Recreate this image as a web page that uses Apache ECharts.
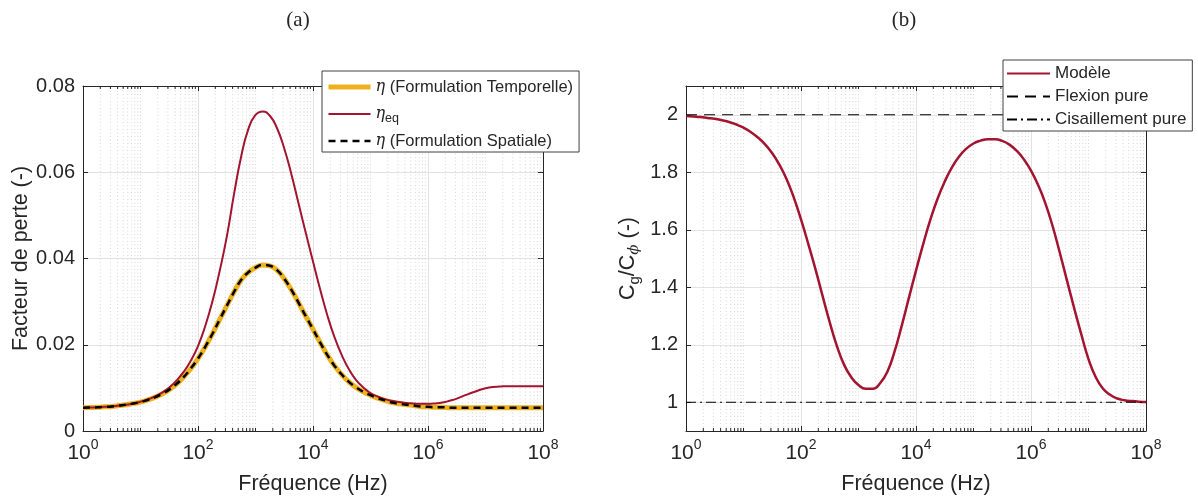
<!DOCTYPE html>
<html><head><meta charset="utf-8">
<script src="https://cdn.jsdelivr.net/npm/echarts@6/dist/echarts.min.js"></script>
<style>html,body{margin:0;padding:0;background:#fff}#c{width:1198px;height:500px}</style>
</head><body><div id="c"></div><script>
// ---------- data ----------
// sampling frequencies as log10(Hz), every 1/8 decade
const logFreq = [0, 0.125, 0.25, 0.375, 0.5, 0.625, 0.75, 0.875, 1, 1.125, 1.25, 1.375, 1.5, 1.625, 1.75, 1.875,
  2, 2.125, 2.25, 2.375, 2.5, 2.625, 2.75, 2.875, 3, 3.125, 3.25, 3.375, 3.5, 3.625, 3.75, 3.875,
  4, 4.125, 4.25, 4.375, 4.5, 4.625, 4.75, 4.875, 5, 5.125, 5.25, 5.375, 5.5, 5.625, 5.75, 5.875,
  6, 6.125, 6.25, 6.375, 6.5, 6.625, 6.75, 6.875, 7, 7.125, 7.25, 7.375, 7.5, 7.625, 7.75, 7.875, 8];
const etaTemporelle = [0.0054, 0.00545, 0.0055, 0.0056, 0.0057, 0.0059, 0.0061, 0.0064, 0.0067, 0.0072, 0.0078, 0.0086, 0.0096, 0.0109, 0.0125, 0.0145,
  0.0168, 0.0195, 0.0225, 0.0258, 0.0290, 0.0322, 0.0350, 0.0368, 0.0379, 0.0385, 0.0383, 0.0373, 0.0353, 0.0327, 0.0297, 0.0266,
  0.0236, 0.0205, 0.0176, 0.0151, 0.0131, 0.0114, 0.0101, 0.0091, 0.0083, 0.0076, 0.0071, 0.0066, 0.0063, 0.0061, 0.0059, 0.0057,
  0.0056, 0.0055, 0.0055, 0.0054, 0.0054, 0.0054, 0.0054, 0.0054, 0.0054, 0.0054, 0.0054, 0.0054, 0.0054, 0.0054, 0.0054, 0.0054, 0.0054];
const etaEq = [0.0054, 0.00545, 0.0055, 0.0056, 0.0057, 0.0059, 0.0061, 0.0064, 0.0068, 0.0073, 0.0080, 0.0089, 0.0101, 0.0117, 0.0137, 0.0163,
  0.0197, 0.0243, 0.0300, 0.0370, 0.0450, 0.0548, 0.0636, 0.0700, 0.0733, 0.0741, 0.0731, 0.0702, 0.0655, 0.0595, 0.0527, 0.0459,
  0.0393, 0.0328, 0.0268, 0.0217, 0.0176, 0.0143, 0.0118, 0.0101, 0.0088, 0.0080, 0.0074, 0.0070, 0.0067, 0.0065, 0.0064, 0.0063,
  0.0063, 0.0064, 0.0066, 0.0070, 0.0075, 0.0082, 0.0088, 0.0094, 0.0099, 0.0102, 0.0103, 0.0104, 0.0104, 0.0104, 0.0104, 0.0104, 0.0104];
const etaSpatiale = [0.0054, 0.00545, 0.0055, 0.0056, 0.0057, 0.0059, 0.0061, 0.0064, 0.0067, 0.0072, 0.0078, 0.0086, 0.0096, 0.0109, 0.0125, 0.0145,
  0.0168, 0.0195, 0.0225, 0.0258, 0.0290, 0.0322, 0.0350, 0.0368, 0.0379, 0.0385, 0.0383, 0.0373, 0.0353, 0.0327, 0.0297, 0.0266,
  0.0236, 0.0205, 0.0176, 0.0151, 0.0131, 0.0114, 0.0101, 0.0091, 0.0083, 0.0076, 0.0071, 0.0066, 0.0063, 0.0061, 0.0059, 0.0057,
  0.0056, 0.0055, 0.0055, 0.0054, 0.0054, 0.0054, 0.0054, 0.0054, 0.0054, 0.0054, 0.0054, 0.0054, 0.0054, 0.0054, 0.0054, 0.0054, 0.0054];
const cgModele = [1.996, 1.994, 1.992, 1.989, 1.986, 1.981, 1.975, 1.966, 1.955, 1.940, 1.921, 1.897, 1.866, 1.826, 1.776, 1.712,
  1.636, 1.552, 1.464, 1.370, 1.278, 1.195, 1.130, 1.087, 1.060, 1.047, 1.047, 1.066, 1.105, 1.175, 1.265, 1.362,
  1.458, 1.550, 1.635, 1.708, 1.768, 1.817, 1.855, 1.882, 1.900, 1.910, 1.915, 1.915, 1.909, 1.896, 1.875, 1.845,
  1.806, 1.755, 1.692, 1.613, 1.521, 1.424, 1.328, 1.236, 1.150, 1.088, 1.048, 1.026, 1.013, 1.007, 1.004, 1.002, 1.001];
const refLogFreq = [0, 8];
const flexionPure = [2, 2];
const cisaillementPure = [1, 1];

const yTicksB = [1, 1.2, 1.4, 1.6, 1.8, 2];

// minor log positions (2..9 x 10^k, plus odd decades)
const xMinor = [];
for (let k = 0; k < 8; k++) {
  if (k % 2 === 1) xMinor.push(Math.pow(10, k));
  for (let m = 2; m <= 9; m++) xMinor.push(m * Math.pow(10, k));
}

const TXT = '#262626';
const SANS = '"Liberation Sans", Arial, Helvetica, sans-serif';
const SERIF = '"DejaVu Serif", "Liberation Serif", serif';
const ORANGE = '#EDB120', RED = '#A2142F';

const pair = (lx, ys) => lx.map((e, i) => [Math.pow(10, e), ys[i]]);

function xAxesFor(gi) {
  const base = {gridIndex: gi, type: 'log', logBase: 10, min: 1, max: 1e8, interval: 2};
  return [
    Object.assign({}, base, {
      position: 'bottom',
      axisLine: {show: true, onZero: false, lineStyle: {color: TXT, width: 1}},
      axisTick: {show: true, inside: true, length: 5, lineStyle: {color: TXT, width: 1}},
      axisLabel: {show: true, margin: 7, color: TXT,
        formatter: v => '{b|10}{s|' + Math.round(Math.log10(v)) + '}',
        rich: {
          b: {fontFamily: SANS, fontSize: 21, color: TXT, lineHeight: 26, verticalAlign: 'bottom'},
          s: {fontFamily: SANS, fontSize: 14, color: TXT, lineHeight: 14, verticalAlign: 'top'}
        }},
      splitLine: {show: true, lineStyle: {color: '#e2e2e2', width: 1}},
      name: 'Fréquence (Hz)', nameLocation: 'middle', nameGap: 42,
      nameTextStyle: {fontFamily: SANS, fontSize: 21.5, color: TXT}
    }),
    Object.assign({}, base, {
      position: 'top',
      axisLine: {show: true, onZero: false, lineStyle: {color: TXT, width: 1}},
      axisTick: {show: true, inside: true, length: 5, lineStyle: {color: TXT, width: 1}},
      axisLabel: {show: false}, splitLine: {show: false}
    })
  ];
}

function yAxesFor(gi, ext, name, nameGap, extra) {
  const main = Object.assign({gridIndex: gi, type: 'value', position: 'left',
    axisLine: {show: true, onZero: false, lineStyle: {color: TXT, width: 1}},
    axisTick: {show: true, inside: true, length: 5, lineStyle: {color: TXT, width: 1}},
    axisLabel: {show: true, margin: 8, color: TXT, fontFamily: SANS, fontSize: 20},
    splitLine: {show: true, lineStyle: {color: '#e2e2e2', width: 1}},
    name: name, nameLocation: 'middle', nameGap: nameGap,
    nameTextStyle: {fontFamily: SANS, fontSize: 21.5, color: TXT,
      rich: {
        n: {fontFamily: SANS, fontSize: 21.5, color: TXT},
        sub: {fontFamily: SANS, fontSize: 15, color: TXT, verticalAlign: 'bottom', padding: [12, 0, 0, 0]},
        phi: {fontFamily: SERIF, fontStyle: 'italic', fontSize: 15, color: TXT, padding: [12, 0, 0, 0]}
      }}
  }, ext, extra || {});
  const opp = Object.assign({gridIndex: gi, type: 'value', position: 'right',
    axisLine: {show: true, onZero: false, lineStyle: {color: TXT, width: 1}},
    axisTick: {show: true, inside: true, length: 5, lineStyle: {color: TXT, width: 1}},
    axisLabel: {show: false}, splitLine: {show: false}
  }, ext, extra ? {axisTick: {show: true, inside: true, length: 5, lineStyle: {color: TXT, width: 1}, customValues: yTicksB}} : {});
  return [main, opp];
}

function minorSeries(xi, yi, yMin, yMax) {
  return {
    type: 'custom', xAxisIndex: xi, yAxisIndex: yi, silent: true, z: 1,
    data: xMinor.map(v => [v, yMin, yMax]),
    encode: {x: 0, y: [1, 2]},
    renderItem: function (params, api) {
      const x = api.value(0);
      const p0 = api.coord([x, api.value(1)]);
      const p1 = api.coord([x, api.value(2)]);
      return {type: 'group', children: [
        {type: 'line', shape: {x1: p0[0], y1: p0[1], x2: p1[0], y2: p1[1]},
          style: {stroke: '#d6d6d6', lineWidth: 1, lineDash: [1, 2.5]}},
        {type: 'line', shape: {x1: p0[0], y1: p0[1], x2: p0[0], y2: p0[1] - 3},
          style: {stroke: TXT, lineWidth: 1}},
        {type: 'line', shape: {x1: p1[0], y1: p1[1], x2: p1[0], y2: p1[1] + 3},
          style: {stroke: TXT, lineWidth: 1}}
      ]};
    }
  };
}

const legText = {fontFamily: SANS, fontSize: 16.5, color: TXT, lineHeight: 20,
  rich: {
    eta: {fontFamily: SERIF, fontStyle: 'italic', fontSize: 16, color: TXT, lineHeight: 20},
    t: {fontFamily: SANS, fontSize: 16.5, color: TXT, lineHeight: 20},
    sub: {fontFamily: SANS, fontSize: 12.5, color: TXT, lineHeight: 20, padding: [9, 0, 0, 0]}
  }};
const noSym = {opacity: 0, color: 'rgba(0,0,0,0)', borderWidth: 0};

const S1 = 'η (Formulation Temporelle)', S2 = 'ηeq', S3 = 'η (Formulation Spatiale)';

const option = {
  animation: false,
  backgroundColor: '#fff',
  grid: [
    {left: 83, right: 655, top: 86, bottom: 68, containLabel: false},
    {left: 686, right: 52, top: 86, bottom: 68, containLabel: false}
  ],
  xAxis: [].concat(xAxesFor(0), xAxesFor(1)),
  yAxis: [].concat(
    yAxesFor(0, {min: 0, max: 0.08, interval: 0.02}, 'Facteur de perte (-)', 48),
    yAxesFor(1, {min: 0.9, max: 2.1}, '{n|C}{sub|g}{n|/C}{phi|ϕ}{n| (-)}', 44, {
      axisTick: {show: true, inside: true, length: 5, lineStyle: {color: TXT, width: 1}, customValues: yTicksB},
      axisLabel: {show: true, margin: 8, color: TXT, fontFamily: SANS, fontSize: 20, customValues: yTicksB}
    })
  ),
  legend: [
    {
      z: 20,
      data: [{name: S1, lineStyle: {width: 5}, itemStyle: noSym}, {name: S2, lineStyle: {width: 2}, itemStyle: noSym}, {name: S3, lineStyle: {width: 2.5}, itemStyle: noSym}],
      orient: 'vertical', left: 322, top: 71,
      itemWidth: 42, itemHeight: 14, itemGap: 6,
      padding: [6, 6, 1, 4],
      itemStyle: noSym,
      backgroundColor: '#fff', borderColor: '#404040', borderWidth: 1, borderRadius: 0,
      formatter: function (n) {
        if (n === S2) return '{eta|η}{sub|eq}';
        if (n === S1) return '{eta|η}{t| (Formulation Temporelle)}';
        return '{eta|η}{t| (Formulation Spatiale)}';
      },
      textStyle: legText, selectedMode: false
    },
    {
      z: 20,
      data: [{name: 'Modèle', itemStyle: noSym}, {name: 'Flexion pure', itemStyle: noSym}, {name: 'Cisaillement pure', itemStyle: noSym}],
      orient: 'vertical', left: 1003, top: 60,
      itemWidth: 43, itemHeight: 14, itemGap: 4,
      padding: [4, 6, 2, 3],
      itemStyle: noSym,
      backgroundColor: '#fff', borderColor: '#404040', borderWidth: 1, borderRadius: 0,
      textStyle: {fontFamily: SANS, fontSize: 17, color: TXT, lineHeight: 19},
      selectedMode: false
    }
  ],
  graphic: [
    {type: 'text', x: 298, y: 20, style: {text: '(a)', align: 'center', verticalAlign: 'middle', font: '21px "Liberation Serif", serif', fill: TXT}},
    {type: 'text', x: 904, y: 20, style: {text: '(b)', align: 'center', verticalAlign: 'middle', font: '21px "Liberation Serif", serif', fill: TXT}}
  ],
  series: [
    minorSeries(0, 0, 0, 0.08),
    minorSeries(2, 2, 0.9, 2.1),
    {name: S1, type: 'line', xAxisIndex: 0, yAxisIndex: 0, data: pair(logFreq, etaTemporelle),
      showSymbol: false, symbol: 'none', smooth: 0.5, z: 3,
      lineStyle: {color: ORANGE, width: 5}, itemStyle: {color: ORANGE}},
    {name: S2, type: 'line', xAxisIndex: 0, yAxisIndex: 0, data: pair(logFreq, etaEq),
      showSymbol: false, symbol: 'none', smooth: 0.5, z: 4,
      lineStyle: {color: RED, width: 2}, itemStyle: {color: RED}},
    {name: S3, type: 'line', xAxisIndex: 0, yAxisIndex: 0, data: pair(logFreq, etaSpatiale),
      showSymbol: false, symbol: 'none', smooth: 0.5, z: 5,
      lineStyle: {color: '#000', width: 2.5, type: [7, 5]}, itemStyle: {color: '#000'}},
    {name: 'Modèle', type: 'line', xAxisIndex: 2, yAxisIndex: 2, data: pair(logFreq, cgModele),
      showSymbol: false, symbol: 'none', smooth: 0.5, z: 4,
      lineStyle: {color: RED, width: 2.5}, itemStyle: {color: RED}},
    {name: 'Flexion pure', type: 'line', xAxisIndex: 2, yAxisIndex: 2, data: pair(refLogFreq, flexionPure),
      showSymbol: false, symbol: 'none', z: 5,
      lineStyle: {color: '#000', width: 1.2, type: [11, 7]}, itemStyle: {color: '#000'}},
    {name: 'Cisaillement pure', type: 'line', xAxisIndex: 2, yAxisIndex: 2, data: pair(refLogFreq, cisaillementPure),
      showSymbol: false, symbol: 'none', z: 5,
      lineStyle: {color: '#000', width: 1.2, type: [10, 4, 2, 4]}, itemStyle: {color: '#000'}}
  ]
};

const chart = echarts.init(document.getElementById('c'), null, {renderer: 'canvas'});
chart.setOption(option);
</script></body></html>
